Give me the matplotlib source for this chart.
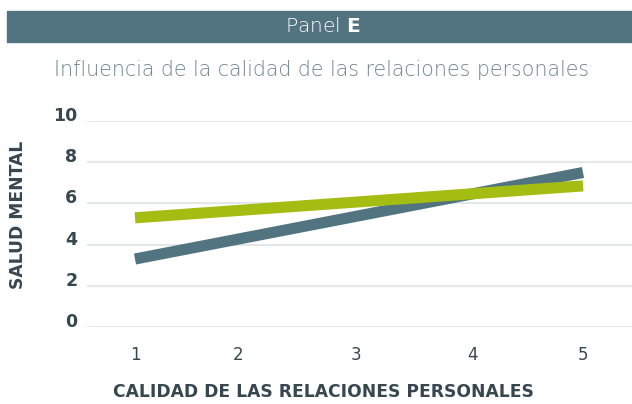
import matplotlib.pyplot as plt
import matplotlib.transforms as mtransforms
from matplotlib.patches import Rectangle

# Mental health vs. quality of personal relationships
calidad = [1, 5]
salud_gris = [3.3, 7.5]
salud_verde = [5.3, 6.85]
x_ticks = [1, 1.92, 2.97, 4.01, 5]
x_labels = ["1", "2", "3", "4", "5"]
y_ticks = [0, 2, 4, 6, 8, 10]

slate = "#527380"
green = "#a3bd12"
dark = "#37474f"

plt.rcParams["font.family"] = ["DejaVu Sans"]

fig = plt.figure(figsize=(6.32, 4.04), dpi=100)
W, H = 632, 404

# header band
fig.patches.append(Rectangle((7 / W, 1 - 42 / H), 625 / W, 31 / H,
                             transform=fig.transFigure, color=slate, zorder=0))
fig.text(323 / W, 1 - 27 / H, "Panel $\\bf{E}$", ha="center", va="center",
         color="white", fontsize=14.5, fontweight="light")
fig.text(322 / W, 1 - 70 / H, "Influencia de la calidad de las relaciones personales",
         ha="center", va="center", color="#6f848d", fontsize=14.8, fontweight="light")

ax = fig.add_axes([87 / W, 1 - 327 / H, 545 / W, 206 / H])
ax.plot(calidad, salud_gris, color=slate, lw=8, solid_capstyle="butt", clip_on=False, zorder=3)
ax.plot(calidad, salud_verde, color=green, lw=8, solid_capstyle="butt", clip_on=False, zorder=4)

ax.set_xlim(1 - 48 / 112, 5 + 49 / 112)
ax.set_ylim(0, 10)
ax.set_yticks(y_ticks)
ax.set_xticks(x_ticks)
ax.set_xticklabels(x_labels)
ax.grid(axis="y", color="#dde3e6", lw=1.2)
ax.set_axisbelow(True)
for s in ax.spines.values():
    s.set_visible(False)
ax.tick_params(length=0)
ax.tick_params(axis="y", labelsize=12.5, labelcolor=dark, pad=7)
ax.tick_params(axis="x", labelsize=12, labelcolor=dark, pad=14)
for lbl in ax.get_yticklabels():
    lbl.set_fontweight("semibold")
    lbl.set_transform(lbl.get_transform() +
                      mtransforms.ScaledTranslation(0, 7 / 100, fig.dpi_scale_trans))

fig.text(323 / W, 1 - 392 / H, "CALIDAD DE LAS RELACIONES PERSONALES", ha="center",
         va="center", color=dark, fontsize=12.3, fontweight="bold")
fig.text(18 / W, 1 - 215 / H, "SALUD MENTAL", ha="center", va="center",
         rotation=90, color=dark, fontsize=12.3, fontweight="bold")

fig.savefig("out.png", dpi=100)
